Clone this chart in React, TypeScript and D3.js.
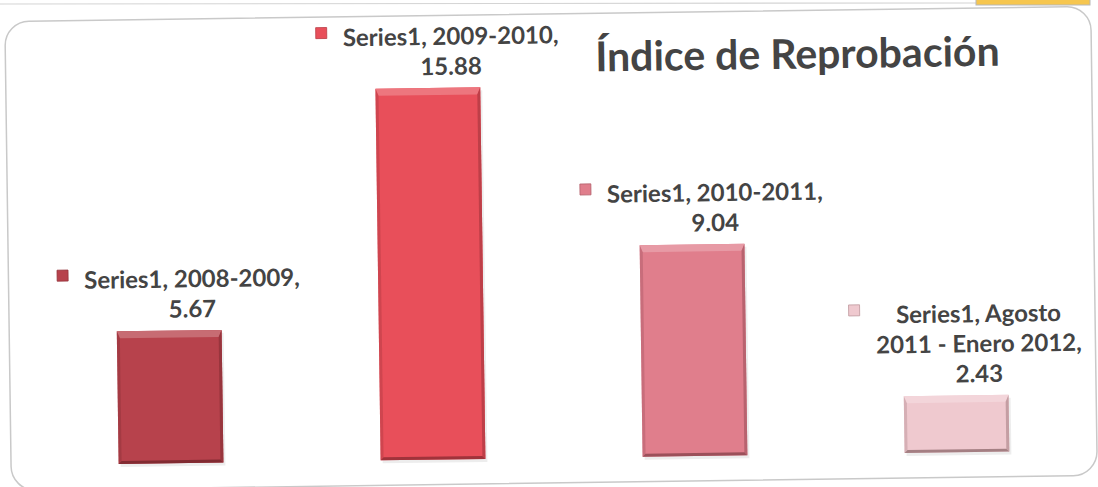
import React, { useEffect, useRef } from "react";
import * as d3 from "d3";

const categories = ["2008-2009", "2009-2010", "2010-2011", "Agosto 2011 - Enero 2012"];
const values = [5.67, 15.88, 9.04, 2.43];
const seriesName = "Series1";
const barColors = ["#b7424c", "#e84f5a", "#e07e8c", "#efc9cf"];
const titleText = "Índice de Reprobación";

const W = 1098;
const H = 487;
const FONT = "Lato, 'Open Sans', sans-serif";
const TEXT = "#444444";

function wrap(text: string, maxChars: number): string[] {
  const words = text.split(" ");
  const lines: string[] = [];
  let cur = "";
  for (const w of words) {
    const next = cur ? cur + " " + w : w;
    if (next.length > maxChars && cur) {
      lines.push(cur);
      cur = w;
    } else cur = next;
  }
  if (cur) lines.push(cur);
  return lines;
}

export default function App() {
  const ref = useRef<SVGSVGElement | null>(null);

  useEffect(() => {
    document.body.style.margin = "0";
    const svg = d3.select(ref.current);
    svg.selectAll("*").remove();

    // scan decorations at the very top
    svg.append("line").attr("x1", 0).attr("x2", 976).attr("y1", 4).attr("y2", 3)
      .attr("stroke", "#d4d4d4").attr("stroke-width", 1.2);
    svg.append("rect").attr("x", 976).attr("y", -3).attr("width", 114).attr("height", 8)
      .attr("fill", "#f6c64f").attr("stroke", "#b8b8b8").attr("stroke-width", 1);

    const g = svg.append("g").attr("transform", "rotate(-0.8, 549, 243)");

    // frame
    g.append("rect").attr("x", 8).attr("y", 14).attr("width", 1086).attr("height", 469)
      .attr("rx", 24).attr("fill", "#ffffff").attr("stroke", "#c9c9c9").attr("stroke-width", 1.5);

    const x = d3.scaleBand<string>().domain(categories).range([37, 1085])
      .paddingInner(0.6).paddingOuter(0.3);
    const y = d3.scaleLinear().domain([0, 16]).range([458, 83.6]);

    // bars with bevel
    categories.forEach((c, i) => {
      const x0 = x(c)!;
      const w = x.bandwidth();
      const y0 = y(values[i]);
      const y1 = y(0);
      const h = y1 - y0;
      const col = barColors[i];
      const light = d3.interpolateRgb(col, "#ffffff")(0.22);
      const dark = d3.interpolateRgb(col, "#2a0508")(0.22);
      const darker = d3.interpolateRgb(col, "#2a0508")(0.38);
      const bg = g.append("g");
      bg.append("rect").attr("x", x0 + 2).attr("y", y0 + 3).attr("width", w).attr("height", h)
        .attr("fill", "#000").attr("opacity", 0.07);
      bg.append("rect").attr("x", x0).attr("y", y0).attr("width", w).attr("height", h).attr("fill", col);
      const bt = 7, bs = 3;
      bg.append("polygon").attr("points", [[x0, y0], [x0 + w, y0], [x0 + w - bs, y0 + bt], [x0 + bs, y0 + bt]].map(p => p.join(",")).join(" "))
        .attr("fill", light);
      bg.append("polygon").attr("points", [[x0, y0], [x0 + bs, y0 + bt], [x0 + bs, y1 - bs], [x0, y1]].map(p => p.join(",")).join(" "))
        .attr("fill", dark).attr("opacity", 0.6);
      bg.append("polygon").attr("points", [[x0 + w, y0], [x0 + w - bs, y0 + bt], [x0 + w - bs, y1 - bs], [x0 + w, y1]].map(p => p.join(",")).join(" "))
        .attr("fill", dark);
      bg.append("polygon").attr("points", [[x0, y1], [x0 + bs, y1 - bs], [x0 + w - bs, y1 - bs], [x0 + w, y1]].map(p => p.join(",")).join(" "))
        .attr("fill", darker);
    });

    // data labels
    const lineH = 30;
    const markerSize = 11;
    const markerGap = 16;
    categories.forEach((c, i) => {
      const lines = [...wrap(`${seriesName}, ${c},`, 19), d3.format(".2f")(values[i])];
      const cx = x(c)! + x.bandwidth() / 2;
      const lastBase = y(values[i]) - 13;
      const lg = g.append("g");
      const texts = lines.map((t, k) =>
        lg.append("text").text(t)
          .attr("y", lastBase - (lines.length - 1 - k) * lineH)
          .attr("text-anchor", "middle")
          .attr("font-family", FONT).attr("font-weight", 700).attr("font-size", 24)
          .attr("fill", TEXT)
      );
      const widths = texts.map(t => (t.node() as SVGTextElement).getComputedTextLength());
      const maxW = Math.max(...widths);
      const blockW = markerSize + markerGap + maxW;
      const left = cx - blockW / 2 + 10;
      const textCx = left + markerSize + markerGap + maxW / 2;
      texts.forEach(t => t.attr("x", textCx));
      const firstBase = lastBase - (lines.length - 1) * lineH;
      const col = barColors[i];
      lg.append("rect").attr("x", left).attr("y", firstBase - 19).attr("width", markerSize).attr("height", markerSize)
        .attr("fill", col).attr("stroke", d3.interpolateRgb(col, "#2a0508")(0.25)).attr("stroke-width", 0.8);
    });

    // title
    g.append("text").text(titleText)
      .attr("x", 800).attr("y", 72).attr("text-anchor", "middle")
      .attr("font-family", FONT).attr("font-weight", 700).attr("font-size", 41)
      .attr("fill", TEXT);
  }, []);

  return (
    <svg ref={ref} width={W} height={H} style={{ display: "block", background: "#fff" }} />
  );
}
